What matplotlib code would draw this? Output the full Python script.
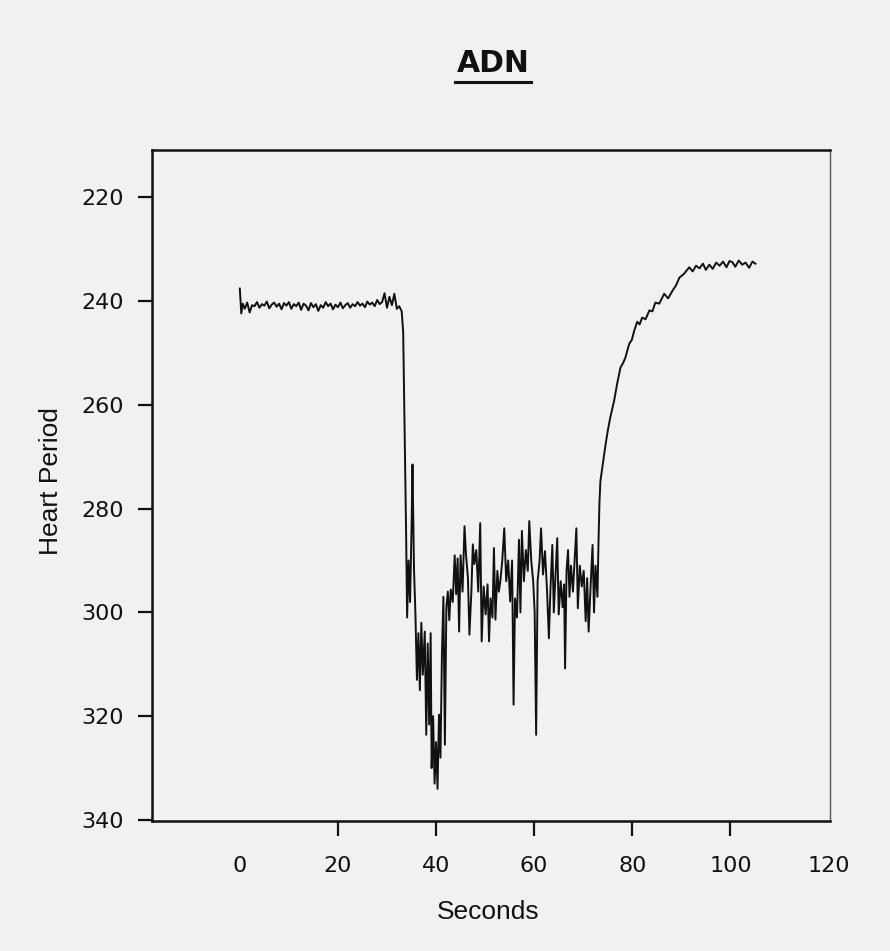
import matplotlib
matplotlib.use("Agg")
import matplotlib.pyplot as plt
from matplotlib.lines import Line2D

plt.rcParams['font.family'] = ['Liberation Sans', 'DejaVu Sans']

# ---- data ----
base_t = [0.0, 0.3, 0.6, 1.0, 1.5, 2.0, 2.5, 3.0, 3.5, 4.0, 4.5, 5.0, 5.5, 6.0, 6.5, 7.0,
          7.5, 8.0, 8.5, 9.0, 9.5, 10.0, 10.5, 11.0, 11.5, 12.0, 12.5, 13.0, 13.5, 14.0,
          14.5, 15.0, 15.5, 16.0, 16.5, 17.0, 17.5, 18.0, 18.5, 19.0, 19.5, 20.0, 20.5,
          21.0, 21.5, 22.0, 22.5, 23.0, 23.5, 24.0, 24.5, 25.0, 25.5, 26.0, 26.5, 27.0,
          27.5, 28.0, 28.5, 29.0, 29.5, 30.0, 30.5, 31.0, 31.5, 32.0, 32.5]
base_v = [237.6, 242.4, 240.5, 241.5, 240.3, 242.2, 240.8, 241.0, 240.2, 241.3, 240.6, 240.9,
          240.1, 241.4, 240.7, 240.3, 241.1, 240.5, 241.6, 240.4, 240.9, 240.2, 241.5, 240.6,
          241.0, 240.3, 241.7, 240.5, 240.9, 241.8, 240.4, 241.2, 240.6, 241.9, 240.8, 241.3,
          240.2, 241.0, 240.5, 241.6, 240.7, 241.2, 240.3, 241.4, 240.8, 240.4, 241.3, 240.6,
          241.0, 240.2, 240.9, 240.5, 241.2, 240.1, 240.7, 240.3, 241.0, 239.8, 240.6, 240.2,
          238.5, 241.3, 239.2, 240.8, 238.6, 241.5, 241.0]

drop_t = [33.0, 33.3, 33.6, 33.9, 34.1, 34.4, 34.7, 35.0, 35.2, 35.5, 35.8, 36.1, 36.4,
          36.7, 37.0, 37.3, 37.7, 38.0, 38.3, 38.6, 38.9, 39.1, 39.4, 39.7, 40.0, 40.3,
          40.6, 40.9, 41.2, 41.5, 41.8]
drop_v = [242.0, 246.0, 265.0, 285.0, 301.0, 290.0, 298.0, 284.0, 271.5, 291.5, 300.5,
          313.0, 304.0, 315.0, 302.0, 312.0, 303.7, 323.6, 306.0, 321.6, 304.0, 330.0,
          320.0, 333.0, 325.0, 334.0, 319.7, 328.0, 308.0, 297.0, 325.5]

band_t = [42.1, 42.4, 42.7, 43.0, 43.4, 43.8, 44.1, 44.4, 44.7, 45.0, 45.4, 45.8, 46.1,
          46.5, 46.8, 47.2, 47.5, 47.8, 48.2, 48.6, 49.0, 49.3, 49.7, 50.1, 50.5, 50.8,
          51.1, 51.5, 51.8, 52.1, 52.5, 52.8, 53.1, 53.5, 53.9, 54.3, 54.7, 55.1, 55.5,
          55.8, 56.1, 56.5, 56.9, 57.2, 57.5, 57.9, 58.3, 58.7, 59.0, 59.4, 59.8, 60.1,
          60.4, 60.7, 61.1, 61.4, 61.8, 62.2, 62.6, 63.0, 63.3, 63.7, 64.0, 64.4, 64.7,
          65.0, 65.4, 65.8, 66.1, 66.3, 66.6, 66.9, 67.2, 67.5, 67.9, 68.3, 68.6, 68.9,
          69.3, 69.7, 70.1, 70.5, 70.8, 71.1, 71.5, 71.9, 72.2, 72.5, 72.9, 73.1]
band_v = [299.0, 296.0, 301.5, 295.6, 298.0, 289.0, 296.5, 289.6, 303.7, 289.0, 296.0,
          283.4, 288.8, 293.4, 304.3, 296.0, 286.9, 290.7, 288.0, 296.0, 282.8, 305.6,
          295.0, 300.4, 294.6, 305.6, 297.3, 301.0, 287.6, 301.4, 292.0, 296.0, 294.0,
          290.0, 283.8, 294.0, 290.0, 297.9, 290.0, 317.8, 297.3, 301.0, 286.0, 300.0,
          284.3, 294.0, 288.0, 292.0, 282.4, 290.0, 294.0, 300.0, 323.6, 294.0, 290.0,
          283.8, 292.7, 288.2, 295.3, 305.0, 296.0, 287.0, 300.0, 292.0, 285.7, 300.4,
          294.0, 299.0, 294.6, 310.8, 292.0, 288.0, 297.0, 291.0, 296.0, 289.0, 283.8,
          299.2, 291.0, 295.0, 292.0, 301.7, 293.4, 303.7, 295.0, 287.0, 300.0, 291.0,
          297.0, 287.0]

rec_t = [73.3, 73.5, 73.9, 74.5, 75.0, 75.5, 76.3, 76.9, 77.6, 78.1, 78.6, 79.0, 79.4,
         79.9, 80.4, 81.0, 81.5, 82.0, 82.7, 83.5, 84.1, 84.7, 85.5, 86.5, 87.3, 88.2,
         88.9, 89.6, 90.5, 91.6, 92.3, 93.0, 93.7, 94.4, 95.0, 95.7, 96.4, 97.1, 97.8,
         98.5, 99.2, 99.8, 100.4, 101.0, 101.7, 102.4, 103.1, 103.8, 104.5, 105.1]
rec_v = [279.0, 274.7, 272.0, 268.0, 265.0, 262.5, 259.2, 256.0, 252.8, 252.0, 250.9,
         249.5, 248.2, 247.5, 245.7, 244.0, 244.5, 243.2, 243.5, 241.8, 242.0, 240.3,
         240.5, 238.6, 239.5, 238.0, 237.0, 235.5, 234.8, 233.5, 234.3, 233.2, 233.7,
         232.8, 234.0, 233.0, 233.8, 232.6, 233.2, 232.4, 233.5, 232.3, 232.5, 233.4,
         232.2, 233.0, 232.6, 233.6, 232.4, 232.8]

x_ticks = [0, 20, 40, 60, 80, 100, 120]
y_ticks = [220, 240, 260, 280, 300, 320, 340]
title_text = "ADN"
x_label = "Seconds"
y_label = "Heart Period"

seconds = base_t + drop_t + band_t + rec_t
period = base_v + drop_v + band_v + rec_v

# ---- figure ----
W, H = 890, 951
bg = '#f1f1f1'
ink = '#111111'
fig = plt.figure(figsize=(W / 100, H / 100), dpi=100, facecolor=bg)
ax = fig.add_axes([152 / W, 1 - 821 / H, (830 - 152) / W, (821 - 150) / H])
ax.set_facecolor(bg)

ax.plot(seconds, period, color=ink, lw=1.4)

ax.set_xlim(-17.9, 120.3)
ax.set_ylim(340.2, 210.9)
ax.set_xticks(x_ticks)
ax.set_yticks(y_ticks)
ax.tick_params(axis='both', direction='out', width=1.6, colors=ink)
ax.tick_params(axis='y', length=10, pad=10)
ax.tick_params(axis='x', length=11, pad=14)
for lab in ax.get_xticklabels() + ax.get_yticklabels():
    lab.set_fontfamily('DejaVu Sans')
    lab.set_fontsize(16)
xt = ax.xaxis.get_major_ticks()
xt[0].tick1line.set_visible(False)
xt[-1].tick1line.set_visible(False)

for side in ['left', 'bottom', 'top']:
    ax.spines[side].set_linewidth(1.8)
    ax.spines[side].set_color(ink)
ax.spines['right'].set_linewidth(1.0)
ax.spines['right'].set_color('#555555')

fig.text(493 / W, 1 - 63 / H, title_text, ha='center', va='center',
         fontsize=21.5, fontweight='bold', color=ink, family='DejaVu Sans')
fig.add_artist(Line2D([455 / W, 531 / W], [1 - 82 / H, 1 - 82 / H],
                      transform=fig.transFigure, color=ink, lw=2.2))
fig.text(488 / W, 1 - 912 / H, x_label, ha='center', va='center',
         fontsize=19, color=ink)
fig.text(51 / W, 1 - 481 / H, y_label, ha='center', va='center',
         rotation=90, fontsize=19, color=ink)

fig.savefig('out.png', dpi=100, facecolor=bg)
